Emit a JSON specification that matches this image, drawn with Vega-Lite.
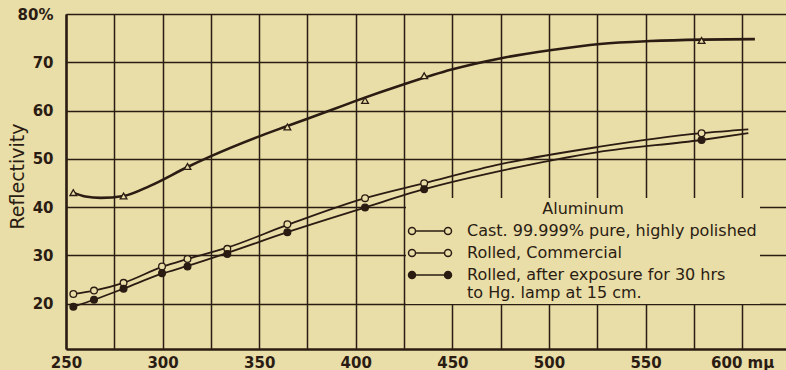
{
  "$schema": "https://vega.github.io/schema/vega-lite/v6.json",
  "width": 720,
  "height": 335,
  "autosize": {"type": "none"},
  "padding": {"left": 66, "top": 14, "right": 0, "bottom": 21},
  "background": "#E9DDA8",
  "config": {
    "view": {"stroke": null},
    "font": "DejaVu Sans",
    "legend": {
      "orient": "none",
      "legendX": 340,
      "legendY": 184,
      "titleFont": "DejaVu Sans",
      "titleFontSize": 16,
      "titleFontWeight": "normal",
      "titleColor": "#2A1C12",
      "titleAnchor": "middle",
      "titlePadding": 6,
      "labelFont": "DejaVu Sans",
      "labelFontSize": 16,
      "labelColor": "#2A1C12",
      "labelLimit": 0,
      "labelOffset": 42,
      "fillColor": "#E9DDA8",
      "padding": 3,
      "symbolSize": 100,
      "symbolStrokeWidth": 1.5,
      "symbolStrokeColor": "#2A1C12",
      "rowPadding": 6
    }
  },
  "datasets": {
    "markers": [
      {"series": "cast", "wavelength": 253.8, "reflectivity": 43.0},
      {"series": "cast", "wavelength": 279.8, "reflectivity": 42.3},
      {"series": "cast", "wavelength": 312.9, "reflectivity": 48.4},
      {"series": "cast", "wavelength": 364.6, "reflectivity": 56.6},
      {"series": "cast", "wavelength": 404.8, "reflectivity": 62.1},
      {"series": "cast", "wavelength": 435.4, "reflectivity": 67.2},
      {"series": "cast", "wavelength": 579.0, "reflectivity": 74.5},
      {"series": "rolled", "wavelength": 253.8, "reflectivity": 22.0},
      {"series": "rolled", "wavelength": 264.5, "reflectivity": 22.7},
      {"series": "rolled", "wavelength": 279.8, "reflectivity": 24.3},
      {"series": "rolled", "wavelength": 299.7, "reflectivity": 27.7},
      {"series": "rolled", "wavelength": 312.9, "reflectivity": 29.25},
      {"series": "rolled", "wavelength": 333.5, "reflectivity": 31.35},
      {"series": "rolled", "wavelength": 364.6, "reflectivity": 36.45},
      {"series": "rolled", "wavelength": 404.8, "reflectivity": 41.85},
      {"series": "rolled", "wavelength": 435.4, "reflectivity": 44.95},
      {"series": "rolled", "wavelength": 579.0, "reflectivity": 55.3},
      {"series": "exposed", "wavelength": 253.8, "reflectivity": 19.35},
      {"series": "exposed", "wavelength": 264.5, "reflectivity": 20.8},
      {"series": "exposed", "wavelength": 279.8, "reflectivity": 23.1},
      {"series": "exposed", "wavelength": 299.7, "reflectivity": 26.3},
      {"series": "exposed", "wavelength": 312.9, "reflectivity": 27.7},
      {"series": "exposed", "wavelength": 333.5, "reflectivity": 30.3},
      {"series": "exposed", "wavelength": 364.6, "reflectivity": 34.8},
      {"series": "exposed", "wavelength": 404.8, "reflectivity": 39.9},
      {"series": "exposed", "wavelength": 435.4, "reflectivity": 43.7},
      {"series": "exposed", "wavelength": 579.0, "reflectivity": 53.9}
    ],
    "curves": [
      {"series": "cast", "wavelength": 253.8, "reflectivity": 43.0},
      {"series": "cast", "wavelength": 260, "reflectivity": 42.2},
      {"series": "cast", "wavelength": 268, "reflectivity": 41.9},
      {"series": "cast", "wavelength": 279.8, "reflectivity": 42.3},
      {"series": "cast", "wavelength": 293.5, "reflectivity": 44.4},
      {"series": "cast", "wavelength": 312.9, "reflectivity": 48.3},
      {"series": "cast", "wavelength": 324.5, "reflectivity": 50.45},
      {"series": "cast", "wavelength": 349, "reflectivity": 54.5},
      {"series": "cast", "wavelength": 364.6, "reflectivity": 56.8},
      {"series": "cast", "wavelength": 388, "reflectivity": 60.2},
      {"series": "cast", "wavelength": 400, "reflectivity": 62.0},
      {"series": "cast", "wavelength": 424.6, "reflectivity": 65.4},
      {"series": "cast", "wavelength": 449.6, "reflectivity": 68.5},
      {"series": "cast", "wavelength": 474.6, "reflectivity": 70.8},
      {"series": "cast", "wavelength": 500.5, "reflectivity": 72.5},
      {"series": "cast", "wavelength": 526.4, "reflectivity": 73.8},
      {"series": "cast", "wavelength": 552.3, "reflectivity": 74.4},
      {"series": "cast", "wavelength": 579.0, "reflectivity": 74.7},
      {"series": "cast", "wavelength": 606.6, "reflectivity": 74.8},
      {"series": "rolled", "wavelength": 253.8, "reflectivity": 22.0},
      {"series": "rolled", "wavelength": 264.5, "reflectivity": 22.7},
      {"series": "rolled", "wavelength": 279.8, "reflectivity": 24.3},
      {"series": "rolled", "wavelength": 299.7, "reflectivity": 27.6},
      {"series": "rolled", "wavelength": 312.9, "reflectivity": 29.25},
      {"series": "rolled", "wavelength": 333.5, "reflectivity": 31.6},
      {"series": "rolled", "wavelength": 364.6, "reflectivity": 36.3},
      {"series": "rolled", "wavelength": 404.8, "reflectivity": 41.85},
      {"series": "rolled", "wavelength": 435.4, "reflectivity": 44.95},
      {"series": "rolled", "wavelength": 475, "reflectivity": 48.9},
      {"series": "rolled", "wavelength": 524.7, "reflectivity": 52.4},
      {"series": "rolled", "wavelength": 579.0, "reflectivity": 55.3},
      {"series": "rolled", "wavelength": 603.2, "reflectivity": 56.1},
      {"series": "exposed", "wavelength": 253.8, "reflectivity": 19.35},
      {"series": "exposed", "wavelength": 264.5, "reflectivity": 20.8},
      {"series": "exposed", "wavelength": 279.8, "reflectivity": 23.1},
      {"series": "exposed", "wavelength": 299.7, "reflectivity": 26.2},
      {"series": "exposed", "wavelength": 312.9, "reflectivity": 27.8},
      {"series": "exposed", "wavelength": 333.5, "reflectivity": 30.5},
      {"series": "exposed", "wavelength": 364.6, "reflectivity": 34.8},
      {"series": "exposed", "wavelength": 404.8, "reflectivity": 39.9},
      {"series": "exposed", "wavelength": 435.4, "reflectivity": 43.7},
      {"series": "exposed", "wavelength": 475, "reflectivity": 47.5},
      {"series": "exposed", "wavelength": 524.7, "reflectivity": 51.35},
      {"series": "exposed", "wavelength": 579.0, "reflectivity": 53.9},
      {"series": "exposed", "wavelength": 603.2, "reflectivity": 55.3}
    ]
  },
  "encoding": {
    "x": {
      "field": "wavelength",
      "type": "quantitative",
      "scale": {"domain": [250, 622.7], "nice": false, "zero": false},
      "axis": {
        "title": null,
        "values": [250, 275, 300, 325, 350, 375, 400, 425, 450, 475, 500, 525, 550, 575, 600],
        "labelExpr": "datum.value % 50 == 0 ? (datum.value == 600 ? '600 mμ' : datum.label) : ''",
        "grid": true,
        "gridColor": "#2A1C12",
        "gridWidth": 1.5,
        "gridOpacity": 1,
        "ticks": false,
        "domainColor": "#2A1C12",
        "domainWidth": 2.5,
        "labelFont": "DejaVu Sans",
        "labelFontWeight": "bold",
        "labelFontSize": 15,
        "labelColor": "#2A1C12",
        "labelPadding": 6,
        "labelDx": 4,
        "labelFlush": false,
        "labelOverlap": false,
        "labelBound": false
      }
    },
    "y": {
      "field": "reflectivity",
      "type": "quantitative",
      "scale": {"domain": [10.6, 80], "nice": false, "zero": false},
      "axis": {
        "title": "Reflectivity",
        "titleFont": "DejaVu Sans",
        "titleFontSize": 19,
        "titleFontWeight": "normal",
        "titleColor": "#2A1C12",
        "titleX": -39,
        "titleY": 162,
        "values": [20, 30, 40, 50, 60, 70, 80],
        "labelExpr": "datum.value == 80 ? '80%' : datum.label",
        "grid": true,
        "gridColor": "#2A1C12",
        "gridWidth": 1.5,
        "gridOpacity": 1,
        "ticks": false,
        "domainColor": "#2A1C12",
        "domainWidth": 2.5,
        "labelFont": "DejaVu Sans",
        "labelFontWeight": "bold",
        "labelFontSize": 15,
        "labelColor": "#2A1C12",
        "labelPadding": 13,
        "labelOverlap": false,
        "labelBound": false
      }
    }
  },
  "layer": [
    {
      "data": {"name": "curves"},
      "transform": [{"filter": "datum.series == 'cast'"}],
      "mark": {"type": "line", "interpolate": "monotone", "color": "#2A1C12", "strokeWidth": 2.6},
      "encoding": {"detail": {"field": "series"}}
    },
    {
      "data": {"name": "curves"},
      "transform": [{"filter": "datum.series != 'cast'"}],
      "mark": {"type": "line", "interpolate": "monotone", "color": "#2A1C12", "strokeWidth": 1.8},
      "encoding": {"detail": {"field": "series"}}
    },
    {
      "data": {"name": "markers"},
      "mark": {"type": "point", "filled": true, "stroke": "#2A1C12", "strokeWidth": 1.3, "opacity": 1, "size": 45},
      "encoding": {
        "shape": {
          "field": "series",
          "type": "nominal",
          "scale": {"range": ["triangle-up", "circle", "circle"]},
          "legend": null
        },
        "fill": {
          "field": "series",
          "type": "nominal",
          "title": "Aluminum",
          "scale": {"domain": ["cast", "rolled", "exposed"], "range": ["#E9DDA8", "#E9DDA8", "#2A1C12"]},
          "legend": {
            "symbolType": "M-1.7,0A0.7,0.7 0 1,0 -0.3,0A0.7,0.7 0 1,0 -1.7,0Z M5.5,0A0.7,0.7 0 1,0 6.9,0A0.7,0.7 0 1,0 5.5,0Z M-0.3,0L5.5,0",
            "labelExpr": "datum.value == 'cast' ? 'Cast. 99.999% pure, highly polished' : datum.value == 'rolled' ? 'Rolled, Commercial' : ['Rolled, after exposure for 30 hrs', 'to Hg. lamp at 15 cm.']"
          }
        }
      }
    }
  ]
}
